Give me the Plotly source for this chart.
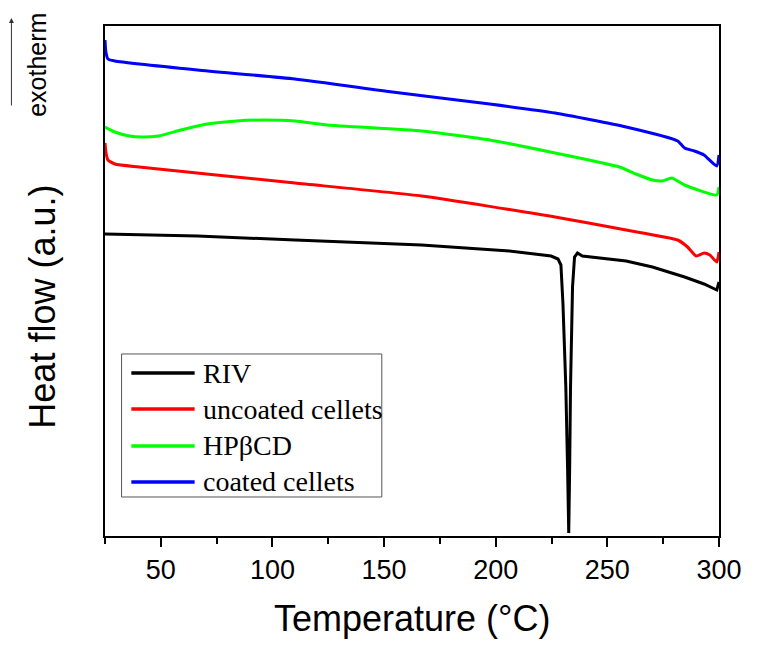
import plotly.graph_objects as go

# DSC curves (heat flow in arbitrary units)
riv_t = [25.0, 66.4, 110.1, 166.8, 206.1, 224.8, 227.9, 229.2, 230.1, 231.4, 232.2,
         232.7, 233.1, 233.5, 234.4, 235.3, 236.6, 238.8, 258.4, 270.2, 284.6, 293.3,
         299.0, 300.0]
riv_hf = [30.2, 30.0, 29.6, 29.1, 28.5, 28.0, 27.7, 27.1, 23.3, 14.9, 6.6,
          0.3, 6.6, 14.9, 24.9, 27.9, 28.3, 28.0, 27.5, 26.9, 25.9, 25.2,
          24.6, 25.4]

uncoated_t = [25.0, 25.4, 26.3, 29.4, 40.3, 110.1, 166.8, 226.6, 258.4, 281.5,
              285.9, 289.8, 293.3, 295.9, 299.0, 300.0]
uncoated_hf = [39.3, 38.4, 37.6, 37.2, 36.9, 35.3, 34.0, 31.9, 30.6, 29.6,
               28.9, 28.0, 28.3, 28.1, 27.4, 28.4]

hpbcd_t = [25.0, 29.4, 35.9, 41.6, 49.0, 59.0, 70.8, 83.9, 95.7, 110.1, 124.5,
           166.8, 197.3, 226.6, 255.4, 262.8, 270.2, 274.6, 278.9, 284.6, 299.0, 300.0]
hpbcd_hf = [40.9, 40.4, 40.0, 39.9, 40.0, 40.6, 41.2, 41.5, 41.6, 41.5, 41.1,
            40.5, 39.6, 38.3, 36.9, 36.2, 35.6, 35.5, 35.8, 35.1, 34.1, 34.9]

coated_t = [25.0, 25.4, 26.3, 29.4, 66.4, 110.1, 153.7, 197.3, 226.6, 258.4,
            281.5, 284.6, 289.0, 293.3, 299.0, 300.0]
coated_hf = [49.6, 48.4, 47.7, 47.5, 46.6, 45.7, 44.4, 43.2, 42.3, 40.9,
             39.5, 38.8, 38.5, 38.1, 37.0, 38.1]

names = ["RIV", "uncoated cellets", "HP\u03b2CD", "coated cellets"]
colors = ["#000000", "#ff0000", "#00ff00", "#0000ff"]
series = [(riv_t, riv_hf), (uncoated_t, uncoated_hf), (hpbcd_t, hpbcd_hf), (coated_t, coated_hf)]

fig = go.Figure()
for (t, hf), name, col in zip(series, names, colors):
    # the sharp melting peak stays linear, the broad curves get smoothed
    shape = "linear" if name == "RIV" else "spline"
    fig.add_trace(go.Scatter(x=t, y=hf, mode="lines", name=name,
                             line=dict(color=col, width=3, shape=shape, smoothing=0.5),
                             showlegend=False))

# hand-made legend box so the line samples are as long as in the original
leg_rows = [0.3196, 0.249, 0.1765, 0.1059]
shapes = [dict(type="rect", xref="paper", yref="paper", x0=0.027, x1=0.4508,
               y0=0.0765, y1=0.3569, line=dict(color="#555555", width=1))]
annotations = []
for name, col, yy in zip(names, colors, leg_rows):
    shapes.append(dict(type="line", xref="paper", yref="paper", x0=0.0429, x1=0.146,
                       y0=yy, y1=yy, line=dict(color=col, width=3.5)))
    annotations.append(dict(xref="paper", yref="paper", x=0.157, y=yy, text=name,
                            showarrow=False, xanchor="left", yanchor="middle",
                            font=dict(family="Liberation Serif", size=28, color="black")))

annotations += [
    dict(xref="paper", yref="paper", x=0.5, y=0, yshift=-82, text="Temperature (\u00b0C)",
         showarrow=False, xanchor="center", yanchor="middle",
         font=dict(family="Liberation Sans", size=36, color="black")),
    dict(xref="paper", yref="paper", x=-0.1032, y=0.449, text="Heat flow (a.u.)",
         showarrow=False, textangle=-90, xanchor="center", yanchor="middle",
         font=dict(family="Liberation Sans", size=36, color="black")),
    dict(xref="paper", yref="paper", x=-0.111, y=0.9235, text="exotherm",
         showarrow=False, textangle=-90, xanchor="center", yanchor="middle",
         font=dict(family="Liberation Sans", size=25, color="black")),
    dict(xref="paper", yref="paper", x=-0.1524, y=1.0157, text="", showarrow=True,
         ax=0, ay=89, arrowhead=2, arrowsize=1, arrowwidth=1, arrowcolor="#333333"),
]

# the page body keeps an 8px margin on every side, so the figure is 16px smaller than the window
fig.update_layout(
    width=746, height=637,
    margin=dict(l=97, r=19, t=18, b=109),
    paper_bgcolor="white", plot_bgcolor="white",
    shapes=shapes, annotations=annotations,
    xaxis=dict(range=[25, 300], tickvals=[50, 100, 150, 200, 250, 300],
               ticks="outside", ticklen=9, tickwidth=1.5, tickcolor="black",
               minor=dict(tickvals=[25, 75, 125, 175, 225, 275], ticks="outside",
                          ticklen=6, tickwidth=1.5, tickcolor="black"),
               showline=True, linecolor="black", linewidth=1.5, mirror=True,
               showgrid=False, zeroline=False, ticklabeloverflow="allow",
               tickfont=dict(family="Liberation Sans", size=27, color="black")),
    yaxis=dict(range=[0, 51], showticklabels=False, ticks="",
               showline=True, linecolor="black", linewidth=1.5, mirror=True,
               showgrid=False, zeroline=False),
)

fig.write_html("out.html", config={"displayModeBar": False})
